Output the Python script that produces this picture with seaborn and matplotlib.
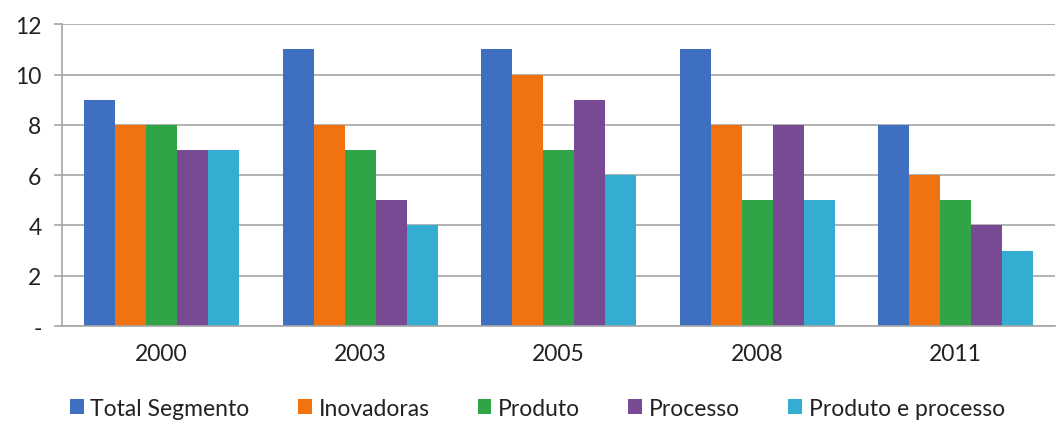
import matplotlib
matplotlib.use("Agg")
import matplotlib.pyplot as plt
import seaborn as sns
import pandas as pd
import numpy as np
from matplotlib.ticker import FixedLocator

years = ["2000", "2003", "2005", "2008", "2011"]
series = ["Total Segmento", "Inovadoras", "Produto", "Processo", "Produto e processo"]
total_segmento = [9, 11, 11, 11, 8]
inovadoras = [8, 8, 10, 8, 6]
produto = [8, 7, 7, 5, 5]
processo = [7, 5, 9, 8, 4]
produto_e_processo = [7, 4, 6, 5, 3]
colors = ["#3E6FC0", "#F0730F", "#2FA547", "#774A93", "#35ADD3"]

rows = []
for name, vals in zip(series, [total_segmento, inovadoras, produto, processo, produto_e_processo]):
    for y, v in zip(years, vals):
        rows.append({"Ano": y, "Série": name, "Valor": v})
df = pd.DataFrame(rows)

sns.set_style("white")
plt.rcParams["font.family"] = ["Lato", "DejaVu Sans"]

fig = plt.figure(figsize=(10.58, 4.27), dpi=100)
ax = fig.add_axes([0.059, 0.234, 0.938, 0.707])
sns.barplot(data=df, x="Ano", y="Valor", hue="Série", hue_order=series, order=years,
            palette=colors, width=0.78, gap=0.0, ax=ax, saturation=1, edgecolor="none",
            linewidth=0, legend=True)

ax.set_ylim(0, 12)
ax.set_xlim(-0.5, 4.5)
ax.set_yticks(range(0, 13, 2))
ax.set_yticklabels(["-", "2", "4", "6", "8", "10", "12"])
ax.yaxis.grid(True, color="#A6A6A6", linewidth=1.2)
ax.set_axisbelow(True)
ax.set_xlabel("")
ax.set_ylabel("")
for s in ["top", "right"]:
    ax.spines[s].set_visible(False)
for s in ["left", "bottom"]:
    ax.spines[s].set_color("#A6A6A6")
    ax.spines[s].set_linewidth(1.2)
ax.tick_params(axis="x", which="major", length=0, labelsize=16.5, pad=12, colors="#222222")
ax.xaxis.set_minor_locator(FixedLocator([-0.5, 0.5, 1.5, 2.5, 3.5, 4.5]))
ax.tick_params(axis="x", which="minor", length=6, color="#A6A6A6", width=1.2, direction="out")
ax.tick_params(axis="y", length=6, color="#A6A6A6", width=1.2, labelsize=16.5, pad=9,
               labelcolor="#222222", direction="out", left=True)

handles, labels = ax.get_legend_handles_labels()
ax.get_legend().remove()
fig.legend(handles, labels, loc="center", bbox_to_anchor=(0.508, 0.042), ncol=5,
           frameon=False, fontsize=16.5, handlelength=0.6, handleheight=0.6,
           handletextpad=0.3, columnspacing=2.1, labelcolor="#222222")

fig.savefig("out.png", dpi=100)
